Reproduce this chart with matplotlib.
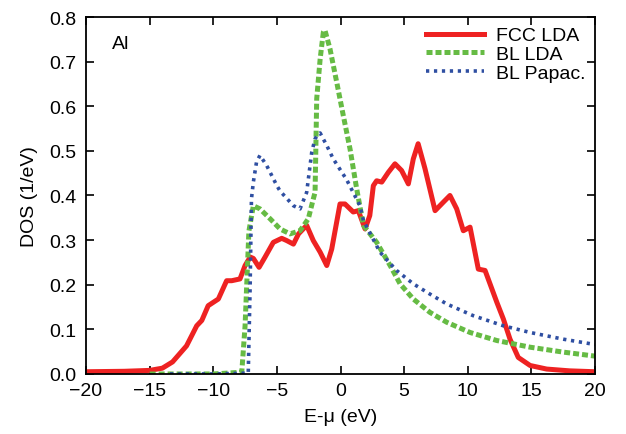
import numpy as np
import matplotlib.pyplot as plt

plt.rcParams['font.family'] = ['Liberation Sans', 'DejaVu Sans']

# FCC LDA
fcc_e = [-20, -17, -15, -14, -13.2, -12.1, -11.3, -10.9, -10.4, -9.6, -8.95, -8.55,
         -7.9, -7.5, -7.1, -6.85, -6.4, -5.93, -5.28, -4.62, -4.23, -3.7, -3.3,
         -2.66, -2.14, -1.6, -1.08, -0.69, -0.04, 0.35, 1.0, 1.4, 1.93, 2.3, 2.58,
         2.84, 3.24, 3.76, 4.28, 4.8, 5.33, 5.72, 6.1, 6.64, 7.43, 8.08, 8.6, 9.13,
         9.65, 10.18, 10.83, 11.36, 12.28, 12.8, 13.32, 13.97, 14.9, 16.2, 18, 20]
fcc_dos = [0.005, 0.006, 0.008, 0.013, 0.027, 0.063, 0.108, 0.12, 0.153, 0.168, 0.209, 0.209,
           0.213, 0.243, 0.262, 0.259, 0.239, 0.262, 0.295, 0.304, 0.299, 0.291, 0.314,
           0.333, 0.299, 0.273, 0.243, 0.28, 0.381, 0.381, 0.363, 0.366, 0.325, 0.355, 0.422,
           0.433, 0.43, 0.452, 0.471, 0.456, 0.426, 0.482, 0.516, 0.46, 0.366, 0.385, 0.4, 0.37,
           0.321, 0.329, 0.235, 0.232, 0.161, 0.123, 0.078, 0.037, 0.019, 0.011, 0.007, 0.005]

# BL LDA
bl_e = [-15, -10, -7.76, -7.5, -7.2, -6.85, -6.33, -5.54, -4.75, -3.97, -3.18, -2.53,
        -2.14, -2.0, -1.87, -1.6, -1.35, -1.22, -0.83, -0.3, 0.22, 0.75, 1.27, 1.8,
        2.84, 3.9, 4.68, 5.72, 7.03, 8.34, 10.18, 12.28, 14.9, 17.5, 20]
bl_dos = [0.0, 0.0, 0.004, 0.108, 0.32, 0.377, 0.37, 0.348, 0.325, 0.314, 0.321, 0.348,
          0.392, 0.407, 0.617, 0.706, 0.766, 0.77, 0.729, 0.654, 0.579, 0.504, 0.415, 0.333,
          0.295, 0.243, 0.202, 0.168, 0.138, 0.116, 0.093, 0.075, 0.06, 0.049, 0.04]

# BL Papaconstantopoulos
pap_e = [-13.4, -10, -7.25, -7.1, -7.0, -6.85, -6.6, -6.33, -5.8, -5.0, -4.75, -3.7,
         -3.18, -2.66, -2.26, -2.0, -1.74, -1.6, -1.08, -0.57, 0.49, 1.53, 1.8, 3.1,
         4.4, 5.72, 7.03, 8.34, 10.4, 12.8, 14.9, 17.5, 20]
pap_dos = [0.0, 0.0, 0.002, 0.2, 0.392, 0.43, 0.475, 0.49, 0.467, 0.422, 0.41, 0.377,
           0.37, 0.407, 0.497, 0.527, 0.538, 0.54, 0.512, 0.482, 0.435, 0.377, 0.344, 0.273,
           0.232, 0.202, 0.179, 0.157, 0.131, 0.108, 0.093, 0.078, 0.066]

fig = plt.figure(figsize=(6.26, 4.35), dpi=100)
ax = fig.add_axes([0.1374, 0.138, 0.8131, 0.8206])

ax.plot(fcc_e, fcc_dos, color='#ee2222', lw=3.6, solid_joinstyle='round', label='FCC LDA')
ax.plot(bl_e, bl_dos, color='#66bb44', lw=3.6, ls=(0, (1.2, 0.6)), label='BL LDA')
ax.plot(pap_e, pap_dos, color='#2f4fa2', lw=2.6, ls=(0, (0.9, 1.3)), label='BL Papac.')

ax.set_xlim(-20, 20)
ax.set_ylim(0, 0.8)
ax.set_xticks(np.arange(-20, 21, 5))
ax.set_yticks(np.arange(0, 0.81, 0.1))
ax.set_yticklabels(['%.1f' % v for v in np.arange(0, 0.81, 0.1)])
ax.tick_params(direction='in', top=True, right=True, length=6, width=1.2, labelsize=14)
ax.tick_params(axis='x', pad=6)
ax.tick_params(axis='y', pad=7)
for s in ax.spines.values():
    s.set_linewidth(1.3)

ax.set_xlabel('E-μ (eV)', fontsize=14, labelpad=6)
ax.set_ylabel('DOS (1/eV)', fontsize=14, labelpad=8)
ax.text(-18.0, 0.74, 'Al', fontsize=14, va='center')

ax.legend(loc='upper right', frameon=False, fontsize=14, handlelength=3.0,
          handletextpad=0.6, labelspacing=0.05, borderaxespad=0.1)

fig.savefig('out.png', dpi=100)
